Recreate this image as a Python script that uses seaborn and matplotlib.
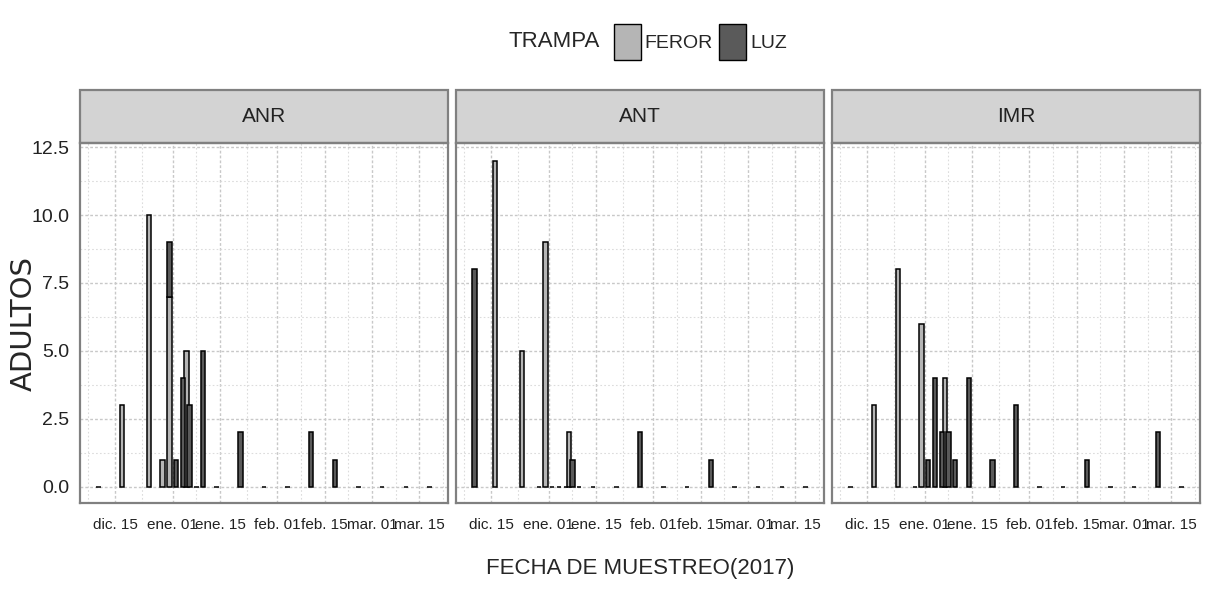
import pandas as pd
import matplotlib
matplotlib.use("Agg")
import matplotlib.pyplot as plt
from matplotlib.patches import Rectangle, Patch
import seaborn as sns

sns.set_style("white")
plt.rcParams['font.family'] = ['Liberation Sans', 'DejaVu Sans']

# datos
sitios = ["ANR", "ANT", "IMR"]
trampas = ["FEROR", "LUZ"]

anr_feror_fechas = ["2016-12-17", "2016-12-25", "2016-12-29", "2016-12-31", "2017-01-05"]
anr_feror = [3, 10, 1, 7, 5]
anr_luz_fechas = ["2016-12-10", "2016-12-31", "2017-01-02", "2017-01-04", "2017-01-06",
                  "2017-01-08", "2017-01-10", "2017-01-14", "2017-01-21", "2017-01-28",
                  "2017-02-04", "2017-02-11", "2017-02-18", "2017-02-25", "2017-03-04",
                  "2017-03-11", "2017-03-18"]
anr_luz = [0, 2, 1, 4, 3, 0, 5, 0, 2, 0, 0, 2, 1, 0, 0, 0, 0]

ant_feror_fechas = ["2016-12-16", "2016-12-24", "2016-12-31", "2017-01-07"]
ant_feror = [12, 5, 9, 2]
ant_luz_fechas = ["2016-12-10", "2016-12-29", "2017-01-02", "2017-01-04", "2017-01-06",
                  "2017-01-08", "2017-01-10", "2017-01-14", "2017-01-21", "2017-01-28",
                  "2017-02-04", "2017-02-11", "2017-02-18", "2017-02-25", "2017-03-04",
                  "2017-03-11", "2017-03-18"]
ant_luz = [8, 0, 0, 0, 0, 1, 0, 0, 0, 2, 0, 0, 1, 0, 0, 0, 0]

imr_feror_fechas = ["2016-12-17", "2016-12-24", "2016-12-31", "2017-01-07"]
imr_feror = [3, 8, 6, 4]
imr_luz_fechas = ["2016-12-10", "2016-12-29", "2017-01-02", "2017-01-04", "2017-01-06",
                  "2017-01-08", "2017-01-10", "2017-01-14", "2017-01-21", "2017-01-28",
                  "2017-02-04", "2017-02-11", "2017-02-18", "2017-02-25", "2017-03-04",
                  "2017-03-11", "2017-03-18"]
imr_luz = [0, 0, 1, 4, 2, 2, 1, 4, 1, 3, 0, 0, 1, 0, 0, 2, 0]

ticks_x = ["2016-12-15", "2017-01-01", "2017-01-15", "2017-02-01", "2017-02-15",
           "2017-03-01", "2017-03-15"]
etiquetas_x = ["dic. 15", "ene. 01", "ene. 15", "feb. 01", "feb. 15", "mar. 01", "mar. 15"]
ticks_y = [0, 2.5, 5, 7.5, 10, 12.5]

col_feror = "#b5b5b5"
col_luz = "#5a5a5a"

series = {
    ("ANR", "FEROR"): (anr_feror_fechas, anr_feror),
    ("ANR", "LUZ"): (anr_luz_fechas, anr_luz),
    ("ANT", "FEROR"): (ant_feror_fechas, ant_feror),
    ("ANT", "LUZ"): (ant_luz_fechas, ant_luz),
    ("IMR", "FEROR"): (imr_feror_fechas, imr_feror),
    ("IMR", "LUZ"): (imr_luz_fechas, imr_luz),
}
filas = []
for (sitio, trampa), (fechas, valores) in series.items():
    for f, v in zip(fechas, valores):
        filas.append({"SITIO": sitio, "TRAMPA": trampa, "FECHA": pd.Timestamp(f), "ADULTOS": v})
df = pd.DataFrame(filas)


def barras(data, color=None, **kws):
    ax = plt.gca()
    fer = data[data.TRAMPA == "FEROR"]
    luz = data[data.TRAMPA == "LUZ"]
    ax.bar(fer.FECHA, fer.ADULTOS, width=1.3, color=col_feror, edgecolor="black", linewidth=1.1)
    # LUZ apilado encima de FEROR cuando coinciden fechas
    base = luz.FECHA.map(dict(zip(fer.FECHA, fer.ADULTOS))).fillna(0)
    ax.bar(luz.FECHA, luz.ADULTOS, bottom=base, width=1.3, color=col_luz,
           edgecolor="black", linewidth=1.1)


g = sns.FacetGrid(df, col="SITIO", col_order=sitios, sharey=True, sharex=True,
                  despine=False, height=5.9, aspect=12.1 / 5.9 / 3)
g.map_dataframe(barras)
g.set_titles("")
g.set_axis_labels("", "")
fig = g.figure
fig.set_size_inches(12.1, 5.9)
fig.subplots_adjust(left=0.0661, right=0.9917, bottom=0.1475, top=0.7576, wspace=0.022)

mayores = pd.to_datetime(ticks_x)
menores = pd.to_datetime(["2016-12-07", "2016-12-23", "2017-01-08", "2017-01-23",
                          "2017-02-08", "2017-02-22", "2017-03-08", "2017-03-22"])

for i, (ax, sitio) in enumerate(zip(g.axes.flat, sitios)):
    ax.set_xlim(pd.Timestamp("2016-12-04 12:00"), pd.Timestamp("2017-03-23 12:00"))
    ax.set_ylim(-0.6, 12.65)
    ax.set_xticks(mayores)
    ax.set_xticklabels(etiquetas_x, fontsize=11, color="#222222")
    ax.set_xticks(menores, minor=True)
    ax.set_yticks(ticks_y)
    ax.set_yticks([1.25, 3.75, 6.25, 8.75, 11.25], minor=True)
    if i == 0:
        ax.set_yticklabels(["%.1f" % t for t in ticks_y], fontsize=14, color="#222222")
        ax.tick_params(axis="y", which="major", length=4, width=1, color="#333333")
    else:
        ax.tick_params(axis="y", which="major", length=0)
    ax.tick_params(axis="x", which="major", length=4, width=1, color="#333333", pad=7)
    ax.tick_params(which="minor", length=0)
    ax.grid(which="major", color="#c8c8c8", linestyle=(0, (2, 1.5)), linewidth=1)
    ax.grid(which="minor", color="#dcdcdc", linestyle=(0, (1.5, 2)), linewidth=0.8)
    ax.set_axisbelow(True)
    for s in ax.spines.values():
        s.set_color("#808080")
        s.set_linewidth(1.6)
    ax.add_patch(Rectangle((0, 1.0), 1, 0.147, transform=ax.transAxes, clip_on=False,
                           facecolor="#d3d3d3", edgecolor="#808080", linewidth=1.6))
    ax.text(0.5, 1.0735, sitio, transform=ax.transAxes, ha="center", va="center",
            fontsize=15, color="#222222")

fig.text(0.529, 0.037, "FECHA DE MUESTREO(2017)", ha="center", va="center", fontsize=16)
fig.text(0.02, 0.4525, "ADULTOS", rotation=90, ha="center", va="center", fontsize=21,
         family=["DejaVu Sans"])

fig.text(600 / 1210, 0.929, "TRAMPA", ha="right", va="center", fontsize=16)
fig.legend(handles=[Patch(facecolor=col_feror, edgecolor="black", label="FEROR"),
                    Patch(facecolor=col_luz, edgecolor="black", label="LUZ")],
           loc="center left", bbox_to_anchor=(600 / 1210, 0.929), ncol=2, frameon=False,
           fontsize=14, handlelength=1.4, handleheight=2.5, handletextpad=0.2,
           columnspacing=0.3, borderpad=0.2)

fig.savefig("out.png", dpi=100)
